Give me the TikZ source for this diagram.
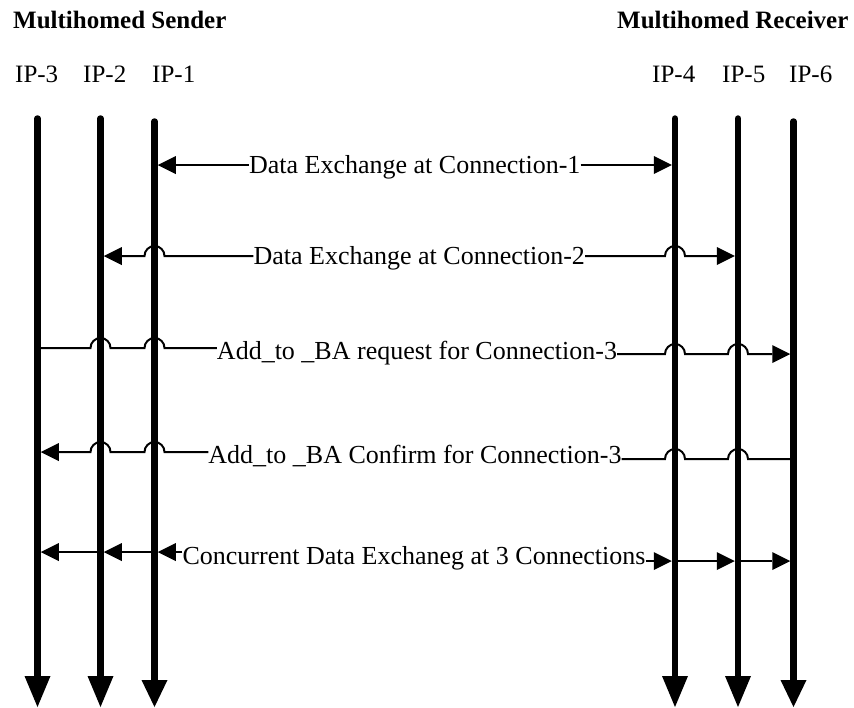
\documentclass[tikz,border=0pt]{standalone}
\usepackage{fontspec}
\setmainfont{Liberation Serif}
\usetikzlibrary{arrows.meta}
\begin{document}
\begin{tikzpicture}[x=1pt,y=-1pt,
  life/.style={line width=6.5pt,line cap=round,-{Triangle[length=31pt,width=26pt,line width=0pt]}},
  lifeS/.style={line width=6.5pt,line cap=round,-{Triangle[length=27pt,width=26pt,line width=0pt]}},
  hl/.style={line width=2pt},
  harr/.style={hl,-{Triangle[length=18pt,width=18pt,line width=0pt]}},
  lbl/.style={font=\fontsize{26}{30}\selectfont,inner sep=0pt,text height=16pt,text depth=0pt},
  hdr/.style={font=\bfseries\fontsize{25}{30}\selectfont,anchor=base west,inner sep=0pt},
  ip/.style={font=\fontsize{25}{30}\selectfont,anchor=base west,inner sep=0pt}]
\useasboundingbox (0,0) rectangle (854,707);

% headers
\node[hdr] (hs) at (13,28) {Multihomed Sender};
\node[hdr] (hr) at (617,28) {Multihomed Receiver};
\node[ip] (ip3) at (15,82) {IP-3};
\node[ip] (ip2) at (83,82) {IP-2};
\node[ip] (ip1) at (152,82) {IP-1};
\node[ip] (ip4) at (652,82) {IP-4};
\node[ip] (ip5) at (722,82) {IP-5};
\node[ip] (ip6) at (789,82) {IP-6};

% lifelines
\coordinate (c3t) at (37.5,118.5);  \coordinate (c3b) at (37.5,707);
\coordinate (c2t) at (100.5,118.5); \coordinate (c2b) at (100.5,707);
\coordinate (c1t) at (154.5,121.5); \coordinate (c1b) at (154.5,707);
\coordinate (c4t) at (675,118.5);   \coordinate (c4b) at (675,707);
\coordinate (c5t) at (738,118.5);   \coordinate (c5b) at (738,707);
\coordinate (c6t) at (793.5,121.5); \coordinate (c6b) at (793.5,707);
\draw[life] (c3t) -- (c3b);
\draw[life] (c2t) -- (c2b);
\draw[lifeS] (c1t) -- (c1b);
\draw[life] (c4t) -- (c4b);
\draw[life] (c5t) -- (c5b);
\draw[lifeS] (c6t) -- (c6b);

% row 1
\node[lbl] (t1) at (414.75,165) {Data Exchange at Connection-1};
\draw[harr] (t1.west) -- (157.75,165);
\draw[harr] (t1.east) -- (671.75,165);

% row 2
\node[lbl] (t2) at (419.25,256) {Data Exchange at Connection-2};
\draw[harr] (t2.west) -- (164.5,256) arc[start angle=0,end angle=180,radius=10pt] -- (103.75,256);
\draw[harr] (t2.east) -- (665,256) arc[start angle=180,end angle=0,radius=10pt] -- (734.75,256);

% row 3
\node[lbl] (t3) at (417,351) {Add\_to \_BA request for Connection-3};
\draw[hl] (40.75,348) -- (90.5,348) arc[start angle=180,end angle=0,radius=10pt]
  -- (144.5,348) arc[start angle=180,end angle=0,radius=10pt] -- (t3.west |- 0,348);
\draw[harr] (t3.east |- 0,354) -- (665,354) arc[start angle=180,end angle=0,radius=10pt]
  -- (728,354) arc[start angle=180,end angle=0,radius=10pt] -- (790.25,354);

% row 4
\node[lbl] (t4) at (415,455.5) {Add\_to \_BA Confirm for Connection-3};
\draw[hl] (790.25,459) -- (748,459) arc[start angle=0,end angle=180,radius=10pt]
  -- (685,459) arc[start angle=0,end angle=180,radius=10pt] -- (t4.east |- 0,459);
\draw[harr] (t4.west |- 0,452) -- (164.5,452) arc[start angle=0,end angle=180,radius=10pt]
  -- (110.5,452) arc[start angle=0,end angle=180,radius=10pt] -- (40.75,452);

% row 5
\node[lbl] (t5) at (414,556) {Concurrent Data Exchaneg at 3 Connections};
\draw[harr] (t5.west |- 0,552) -- (157.75,552);
\draw[harr] (151.25,552) -- (103.75,552);
\draw[harr] (97.25,552) -- (40.75,552);
\draw[harr] (t5.east |- 0,561) -- (671.75,561);
\draw[harr] (678.25,561) -- (734.75,561);
\draw[harr] (741.25,561) -- (790.25,561);
\end{tikzpicture}
\end{document}
